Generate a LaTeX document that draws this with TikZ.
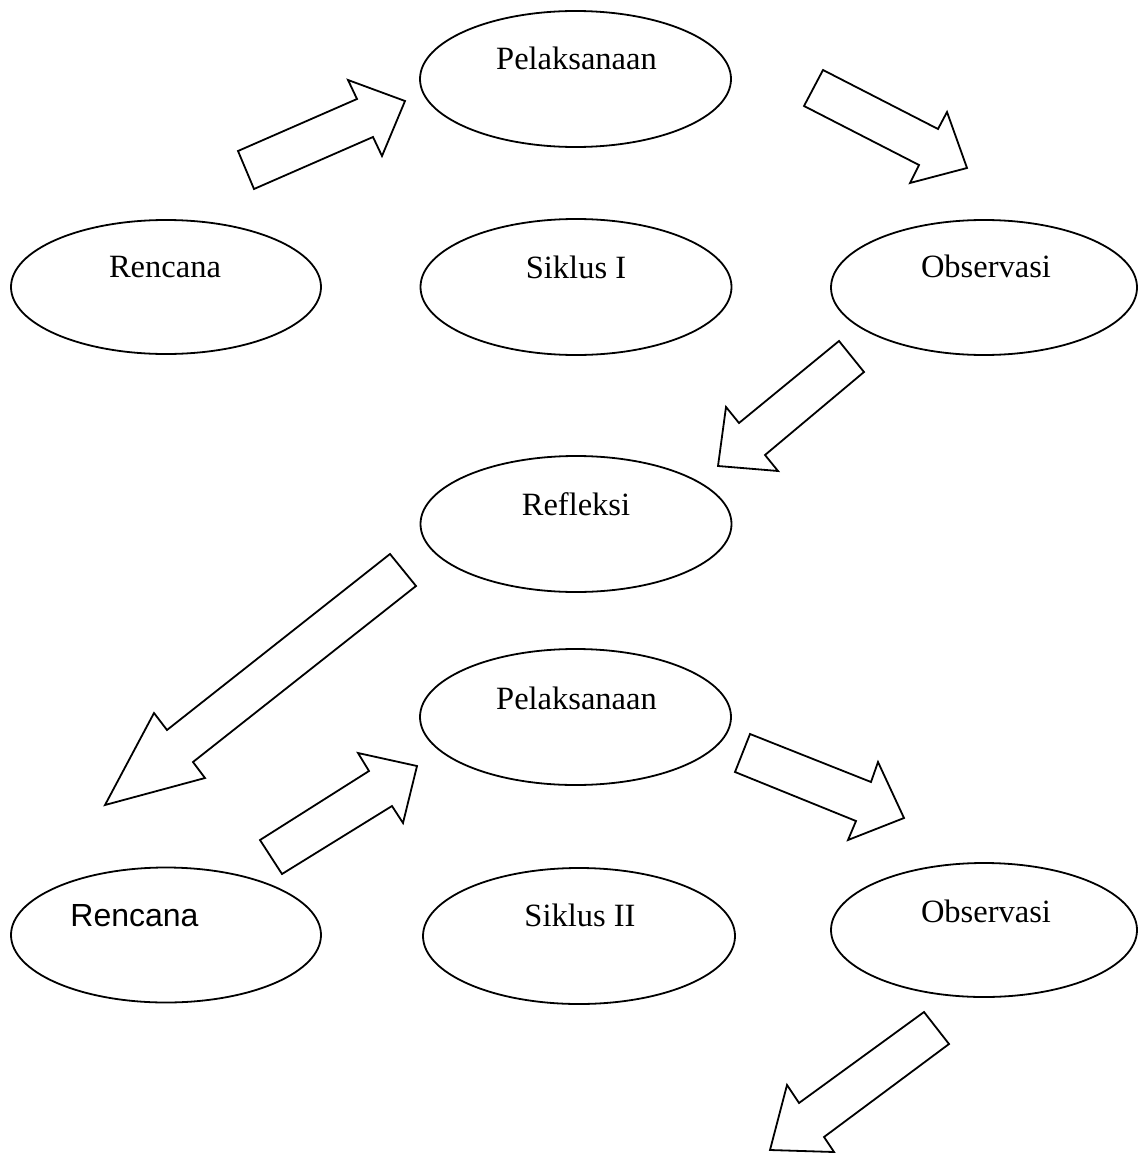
\documentclass[tikz,border=0pt]{standalone}
\usepackage{fontspec}
\setmainfont{Liberation Serif}
\newfontfamily\arialf{Liberation Sans}
\usetikzlibrary{shapes.geometric}
\begin{document}
\begin{tikzpicture}[x=1pt,y=-1pt,
  ell/.style={draw, ellipse, line width=1.8pt, inner sep=0pt},
  lbl/.style={anchor=base, inner sep=0pt, font=\fontsize{32.5}{38}\selectfont},
  blk/.style={draw, line width=1.8pt, line join=miter, fill=white}]
\useasboundingbox (0,0) rectangle (1137,1153);
% ellipses
\node[ell, minimum width=310pt, minimum height=134pt] (ren1) at (166,287) {};
\node[ell, minimum width=311pt, minimum height=136pt] (pel1) at (575.5,79) {};
\node[ell, minimum width=311pt, minimum height=136pt] (sik1) at (576,287) {};
\node[ell, minimum width=306pt, minimum height=135pt] (obs1) at (984,287.5) {};
\node[ell, minimum width=311pt, minimum height=136pt] (ref) at (576,524) {};
\node[ell, minimum width=311pt, minimum height=136pt] (pel2) at (575.5,717) {};
\node[ell, minimum width=310pt, minimum height=135pt] (ren2) at (166,935) {};
\node[ell, minimum width=312pt, minimum height=136pt] (sik2) at (579,936) {};
\node[ell, minimum width=306pt, minimum height=134pt] (obs2) at (984,930) {};
% labels
\node[lbl] (ren1t) at (165,277) {Rencana};
\node[lbl] (pel1t) at (576.5,70) {Pelaksanaan};
\node[lbl] (sik1t) at (576,278) {Siklus I};
\node[lbl] (obs1t) at (986,277) {Observasi};
\node[lbl] (reft) at (576,515) {Refleksi};
\node[lbl] (pel2t) at (576.5,709) {Pelaksanaan};
\node[lbl, font=\arialf\fontsize{32}{38}\selectfont] (ren2t) at (134.5,926) {Rencana};
\node[lbl] (sik2t) at (580,926) {Siklus II};
\node[lbl] (obs2t) at (986,922) {Observasi};
% block arrows
\draw[blk] (238,151) -- (357,99) -- (348,80) -- (405,101) -- (382,156) -- (373,137) -- (254,189) -- cycle;
\draw[blk] (823,70) -- (938,129) -- (947,112) -- (967,168) -- (910,183) -- (919,165) -- (804,106) -- cycle;
\draw[blk] (839,341) -- (864,372) -- (765,455) -- (778,471) -- (718,466) -- (726,407) -- (739,423) -- cycle;
\draw[blk] (390,554) -- (416,586) -- (193,762) -- (205,778) -- (105,805) -- (154,713) -- (167,730) -- cycle;
\draw[blk] (260,840) -- (369,771) -- (358,753) -- (417,766) -- (403,823) -- (392,806) -- (282,874) -- cycle;
\draw[blk] (750,734) -- (871,782) -- (878,762) -- (904,818) -- (848,840) -- (856,821) -- (735,772) -- cycle;
\draw[blk] (924,1012) -- (949,1044) -- (824,1137) -- (834,1152) -- (770,1150) -- (787,1085) -- (799,1103) -- cycle;
\end{tikzpicture}
\end{document}
